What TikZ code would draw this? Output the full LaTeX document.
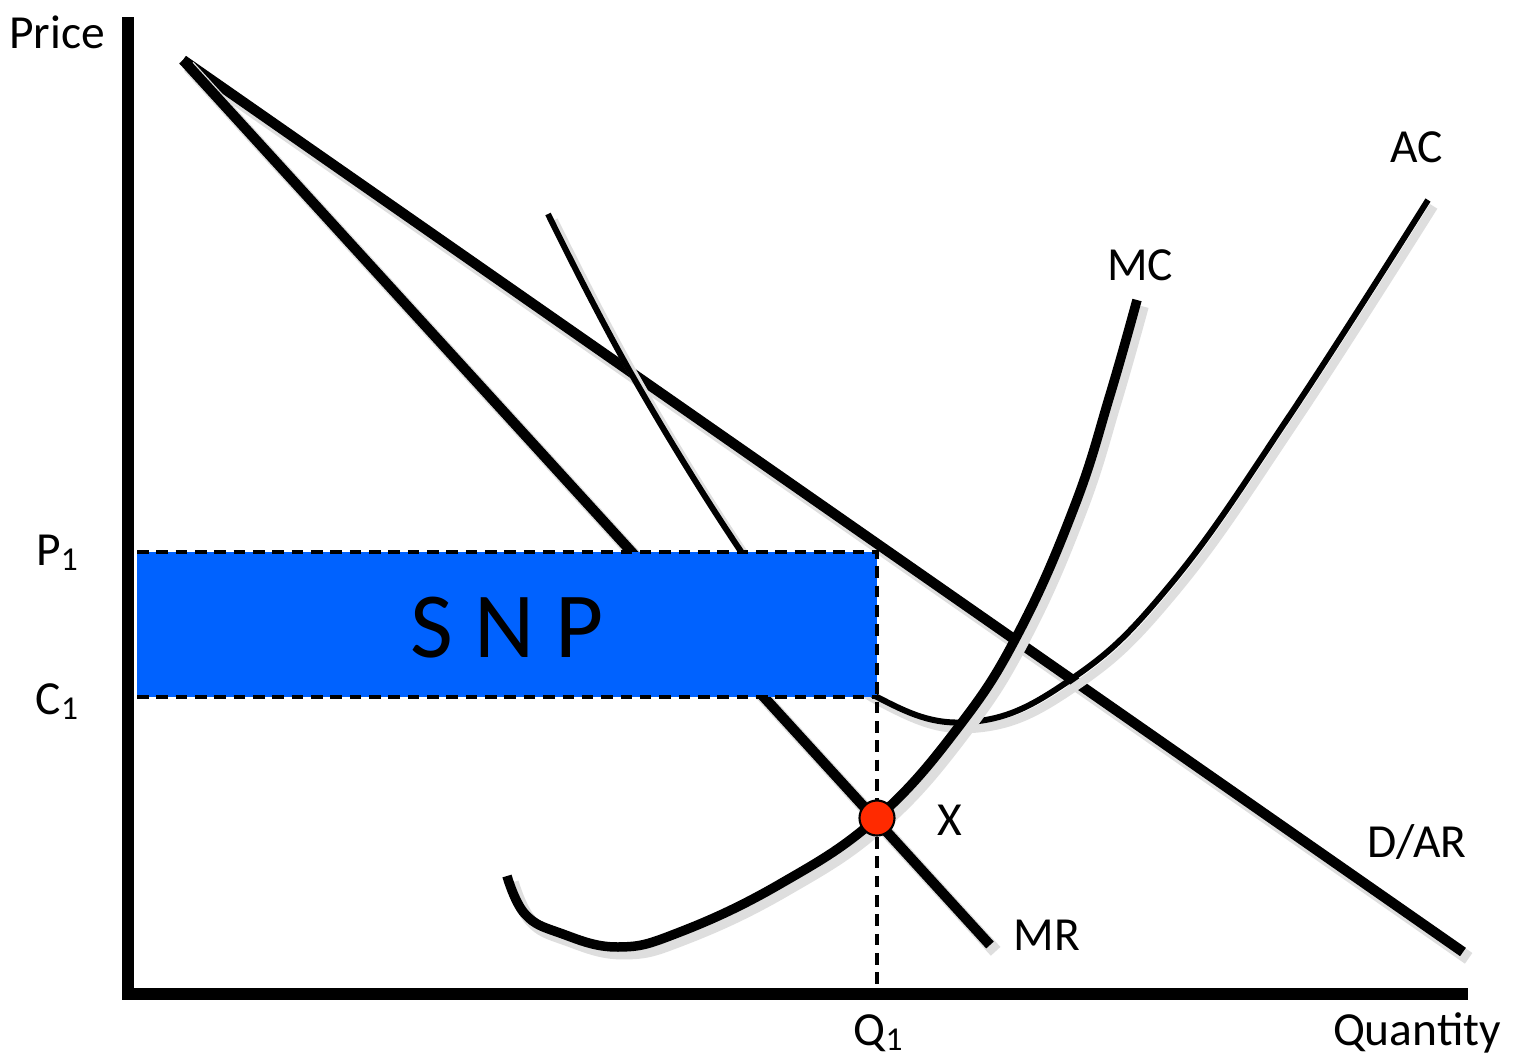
\documentclass[tikz,border=0pt]{standalone}
\usepackage{fontspec}
\setmainfont{Carlito}
\usepackage{xcolor}
\usetikzlibrary{calc}

\definecolor{snpblue}{HTML}{0062FF}
\definecolor{dotred}{HTML}{FF2A00}
\newcommand{\subidx}[1]{\raisebox{-1.4pt}{\fontsize{9.5}{10}\selectfont #1}}

\begin{document}
\begin{tikzpicture}[
    x=0.01cm, y=-0.01cm,
    lbl/.style={font=\fontsize{13.5}{16}\selectfont, inner sep=0pt},
    curve/.style={line width=#1, line cap=butt, preaction={draw=black!13, line width=#1+0.8pt, transform canvas={xshift=1.6pt, yshift=-1.8pt}}},
    curve/.default=2.5pt,
    guide/.style={line width=1.3pt, dash pattern=on 3.3pt off 2.2pt},
    axis/.style={line width=3.5pt},
]
\useasboundingbox (0,0) rectangle (1517,1054);

% Demand and marginal revenue
\coordinate (top) at (183,60);
\coordinate (arend) at (1463,952);
\coordinate (mrend) at (990,945);
\draw[curve=2.9pt] (top) -- (arend);
\draw[curve=2.9pt] (top) -- (mrend);

% Average cost
\draw[curve=1.7pt] plot[smooth, tension=0.7] coordinates {(548,214) (632,375) (740,550) (810,640) (877,697) (970,722) (1070,680) (1170,585) (1290,415) (1428,200)};

% Marginal cost
\draw[curve=2.7pt] plot[smooth, tension=0.7] coordinates {(507,876) (525,914) (560,933) (618,947) (680,932) (780,884) (877,818) (960,725) (1020,630) (1075,505) (1110,395) (1137,300)};

% Supernormal profit
\fill[snpblue] (137,552) rectangle (877,697);
\node[font=\fontsize{26.5}{30}\selectfont, inner sep=0pt] (snp) at (507,628) {S N P};

% Guides
\coordinate (p1) at (137,552);
\coordinate (c1) at (137,697);
\coordinate (corner) at (877,552);
\coordinate (cornerlow) at (877,697);
\coordinate (q1) at (877,993);
\draw[guide] (p1) -- (corner) -- (q1);
\draw[guide] (c1) -- (cornerlow);

% Axes
\coordinate (origin) at (128,994);
\draw[axis] (128,17) -- (origin) -- (1468,994);

% Profit maximising point
\node[circle, fill=dotred, draw=black, line width=0.6pt, minimum size=0.35cm, inner sep=0pt] (x) at (877,818) {};

% Labels
\node[lbl] (price) at (57,32) {Price};
\node[lbl] (quantity) at (1417,1033) {Quantity};
\node[lbl] (plab) at (57,553) {P\subidx{1}};
\node[lbl] (clab) at (57,702) {C\subidx{1}};
\node[lbl] (qlab) at (878,1033) {Q\subidx{1}};
\node[lbl] (aclab) at (1417,147) {AC};
\node[lbl] (mclab) at (1140,265) {MC};
\node[lbl] (arlab) at (1417,842) {D/AR};
\node[lbl] (mrlab) at (1047,935) {MR};
\node[lbl] (xlab) at (950,820) {X};

\end{tikzpicture}
\end{document}
